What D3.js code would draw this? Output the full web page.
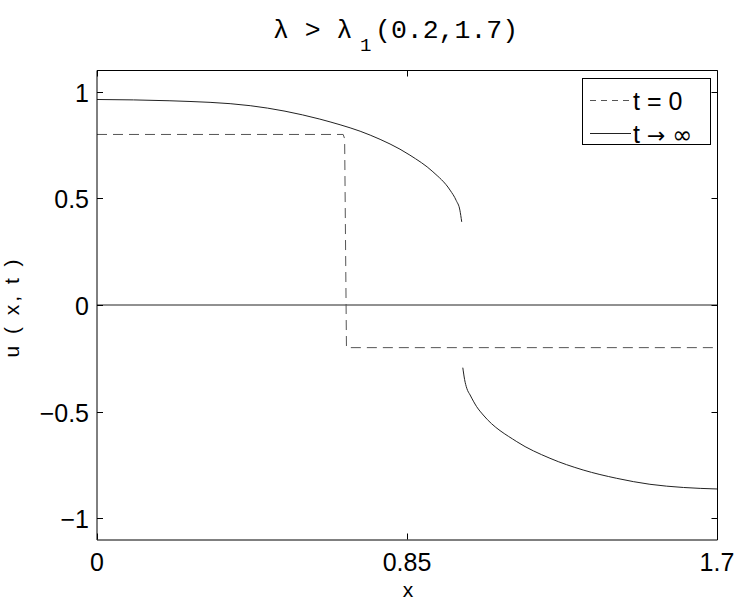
<!DOCTYPE html>
<html>
<head>
<meta charset="utf-8">
<script src="https://cdn.jsdelivr.net/npm/d3@7/dist/d3.min.js"></script>
<style>
  html, body { margin: 0; padding: 0; background: #fff; }
  svg { display: block; }
</style>
</head>
<body>
<script>
// ---- data ----
const xTicks = [0, 0.85, 1.7];
const xTickLabels = ["0", "0.85", "1.7"];
const yTicks = [-1, -0.5, 0, 0.5, 1];
const yTickLabels = ["\u22121", "\u22120.5", "0", "0.5", "1"];

// t = 0 (initial step profile, dashed)
const stepX = [0, 0.675, 0.679, 0.684, 1.7];
const stepU = [0.8, 0.8, 0.78, -0.2, -0.2];

// t -> infinity, upper branch
const upperX = [0, 0.2, 0.42, 0.611, 0.639, 0.749, 0.858, 0.921, 0.968, 0.985, 0.995, 1.0];
const upperU = [0.964, 0.958, 0.935, 0.872, 0.859, 0.797, 0.703, 0.625, 0.539, 0.49, 0.445, 0.39];

// t -> infinity, lower branch
const lowerX = [1.003, 1.008, 1.014, 1.023, 1.041, 1.059, 1.151, 1.242, 1.333, 1.425, 1.516, 1.608, 1.7];
const lowerU = [-0.294, -0.35, -0.391, -0.422, -0.477, -0.516, -0.641, -0.719, -0.774, -0.813, -0.841, -0.856, -0.863];

// zero reference line
const zeroX = [0, 1.7];
const zeroU = [0, 0];

const legendLabels = ["t = 0", "t \u2192 \u221e"];

// ---- layout ----
const W = 742, H = 603;
const svg = d3.select("body").append("svg").attr("width", W).attr("height", H);

const x = d3.scaleLinear().domain([0, 1.7]).range([97, 717]);
const y = d3.scaleLinear().domain([-1.1, 1.1]).range([539.5, 70.5]);

const font = "'Liberation Sans', Arial, Helvetica, sans-serif";

// data lines
const line = d3.line().x(d => x(d[0])).y(d => y(d[1]));
const zip = (a, b) => a.map((v, i) => [v, b[i]]);

svg.append("path").attr("d", line(zip(zeroX, zeroU)))
  .attr("fill", "none").attr("stroke", "#222").attr("stroke-width", 1);

svg.append("path").attr("d", line(zip(stepX, stepU)))
  .attr("fill", "none").attr("stroke", "#555").attr("stroke-width", 1)
  .attr("stroke-dasharray", "10,6");

const smooth = d3.line().x(d => x(d[0])).y(d => y(d[1])).curve(d3.curveMonotoneX);
svg.append("path").attr("d", smooth(zip(upperX, upperU)))
  .attr("fill", "none").attr("stroke", "#222").attr("stroke-width", 1);
svg.append("path").attr("d", smooth(zip(lowerX, lowerU)))
  .attr("fill", "none").attr("stroke", "#222").attr("stroke-width", 1);

// axes box
const x0 = x(0), x1 = x(1.7), yb = y(-1.1), yt = y(1.1);
svg.append("line").attr("x1", x0).attr("x2", x0).attr("y1", yt).attr("y2", yb + 0.5)
  .attr("stroke", "#000").attr("stroke-width", 1);
svg.append("line").attr("x1", x0).attr("x2", x1 + 0.5).attr("y1", yb + 0.5).attr("y2", yb + 0.5)
  .attr("stroke", "#000").attr("stroke-width", 1);
svg.append("line").attr("x1", x1 + 0.5).attr("x2", x1 + 0.5).attr("y1", yt).attr("y2", yb + 0.5)
  .attr("stroke", "#000").attr("stroke-width", 1);
svg.append("line").attr("x1", x0).attr("x2", x1 + 0.5).attr("y1", yt).attr("y2", yt)
  .attr("stroke", "#000").attr("stroke-width", 1);

// y ticks (inside, both sides)
const tl = 6;
yTicks.forEach((v, i) => {
  const yy = Math.round(y(v)) + 0.5;
  svg.append("line").attr("x1", x0).attr("x2", x0 + tl).attr("y1", yy).attr("y2", yy).attr("stroke", "#000");
  svg.append("line").attr("x1", x1 + 0.5).attr("x2", x1 + 0.5 - tl).attr("y1", yy).attr("y2", yy).attr("stroke", "#000");
  svg.append("text").attr("x", 89).attr("y", yy).attr("dy", "0.36em")
    .attr("text-anchor", "end").attr("font-family", font).attr("font-size", 25)
    .text(yTickLabels[i]);
});

// x ticks
xTicks.forEach((v, i) => {
  const xx = Math.round(x(v)) + 0.5;
  svg.append("line").attr("x1", xx).attr("x2", xx).attr("y1", yb).attr("y2", yb - tl).attr("stroke", "#000");
  svg.append("line").attr("x1", xx).attr("x2", xx).attr("y1", yt).attr("y2", yt + tl).attr("stroke", "#000");
  svg.append("text").attr("x", x(v)).attr("y", 571)
    .attr("text-anchor", "middle").attr("font-family", font).attr("font-size", 25)
    .text(xTickLabels[i]);
});

// axis labels
svg.append("text").attr("x", 408).attr("y", 597)
  .attr("text-anchor", "middle").attr("font-family", font).attr("font-size", 21)
  .text("x");
svg.append("text")
  .attr("transform", "translate(19," + (y(0) + 2) + ") rotate(-90)")
  .attr("text-anchor", "middle").attr("font-family", font).attr("font-size", 21)
  .attr("letter-spacing", "3px")
  .text("u ( x, t )");

// title
const mono = "'Liberation Mono', 'Courier New', 'DejaVu Sans Mono', monospace";
svg.append("text").attr("x", 273).attr("y", 38)
  .attr("font-family", mono).attr("font-size", 26.5)
  .text("\u03bb > \u03bb");
svg.append("text").attr("x", 360).attr("y", 51)
  .attr("font-family", mono).attr("font-size", 19)
  .text("1");
svg.append("text").attr("x", 375).attr("y", 38)
  .attr("font-family", mono).attr("font-size", 26.5)
  .text("(0.2,1.7)");

// legend
const lg = svg.append("g");
lg.append("rect").attr("x", 582.5).attr("y", 78.5).attr("width", 128).attr("height", 66)
  .attr("fill", "#fff").attr("stroke", "#000").attr("stroke-width", 1);
const rows = [100.5, 133.5];
lg.append("line").attr("x1", 590).attr("x2", 631).attr("y1", rows[0]).attr("y2", rows[0])
  .attr("stroke", "#555").attr("stroke-dasharray", "6,5");
lg.append("line").attr("x1", 590).attr("x2", 631).attr("y1", rows[1]).attr("y2", rows[1])
  .attr("stroke", "#222");
lg.append("text").attr("x", 633).attr("y", rows[0]).attr("dy", "0.36em")
  .attr("font-family", font).attr("font-size", 25).text(legendLabels[0]);
const t2 = lg.append("text").attr("x", 633).attr("y", rows[1]).attr("dy", "0.36em")
  .attr("font-family", font).attr("font-size", 25);
const parts = legendLabels[1].split(" ");
t2.append("tspan").text(parts[0] + " ");
t2.append("tspan").attr("font-family", "'DejaVu Sans', sans-serif").attr("font-size", 22).text(parts[1]);
t2.append("tspan").text(" ");
t2.append("tspan").attr("font-family", "'DejaVu Sans', sans-serif").attr("font-size", 24).text(parts[2]);
</script>
</body>
</html>
